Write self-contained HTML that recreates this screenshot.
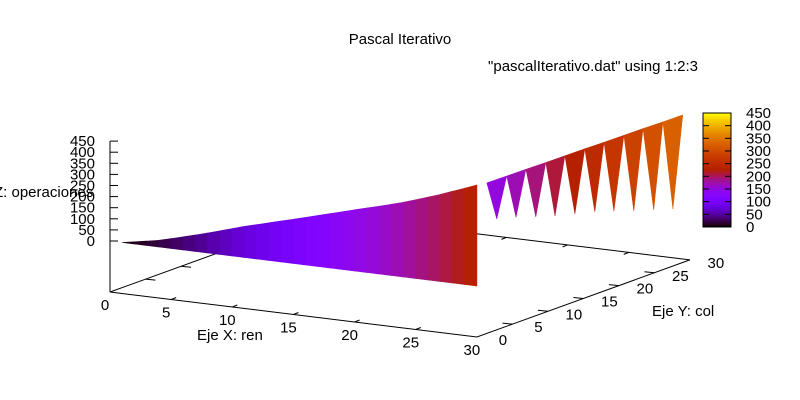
<!DOCTYPE html>
<html><head><meta charset="utf-8"><style>
body{margin:0;background:#fff}
svg{display:block;font-family:"Liberation Sans","DejaVu Sans",sans-serif;font-size:15px}
</style></head><body>
<svg id="c" width="800" height="400">
<text x="400" y="44" text-anchor="middle">Pascal Iterativo</text>
<text x="698" y="71" text-anchor="end">"pascalIterativo.dat" using 1:2:3</text>
<g id="axes"></g>
<g id="surf"></g>
<text x="-6" y="197">Z: operaciones</text>
<text x="197" y="340">Eje X: ren</text>
<text x="652" y="316">Eje Y: col</text>
<g id="cb"></g>
</svg>
<script>
// data
const wallX = [1,4,7.4,11,15.5,19.5,23.7,27,30];
const wallTopZ = [0,30,80,140,207,268,331,392,455];
const peakY = [1.4,4.2,6.9,9.7,12.4,15.2,17.9,20.7,23.4,26.2,29.0];
const peakZ = [448,447,446,444,443,442,440,439,438,436,435];
const valleyY = [2.8,5.5,8.3,11,13.8,16.6,19.3,22.1,24.9,27.6];
const valleyZ = [269,246,215,188,165,141,114,82,54,27];
const zTicks = [0,50,100,150,200,250,300,350,400,450];
const xTicks = [0,5,10,15,20,25,30];
const yTicks = [0,5,10,15,20,25,30];
const cbTicks = [0,50,100,150,200,250,300,350,400,450];

const NS="http://www.w3.org/2000/svg";
function B(x,y){return [110+x*12.23+y*7.1, 292+x*1.5-y*2.57];}
function P(x,y,z){const b=B(x,y);return [b[0], b[1]-51-z*0.222];}
function pal(z){let t=Math.max(0,Math.min(1,z/450));
 let r=Math.sqrt(t),g=t*t*t,b=Math.max(0,Math.sin(2*Math.PI*t));
 return `rgb(${Math.round(r*255)},${Math.round(g*255)},${Math.round(b*255)})`;}
function el(tag,attrs,parent){const e=document.createElementNS(NS,tag);for(const k in attrs)e.setAttribute(k,attrs[k]);parent.appendChild(e);return e;}
function pts(a){return a.map(p=>p[0].toFixed(1)+","+p[1].toFixed(1)).join(" ");}
function interp(xa,za,x){if(x<=xa[0])return za[0];for(let i=0;i<xa.length-1;i++){if(x<=xa[i+1]){const f=(x-xa[i])/(xa[i+1]-xa[i]);return za[i]+f*(za[i+1]-za[i]);}}return za[za.length-1];}

const axes=document.getElementById('axes'), surf=document.getElementById('surf'), cb=document.getElementById('cb');
let o=B(0,0),xe=B(30,0),ye=B(30,30),bk=B(0,30);
el('polyline',{points:pts([bk,o,xe,ye,bk]),fill:'none',stroke:'#000','stroke-width':1},axes);
el('line',{x1:110,y1:P(0,0,450)[1],x2:110,y2:292,stroke:'#000'},axes);
zTicks.forEach(z=>{const y=P(0,0,z)[1];
 el('line',{x1:110,y1:y,x2:118,y2:y,stroke:'#000'},axes);
 const t=el('text',{x:95,y:y+5,'text-anchor':'end'},axes);t.textContent=z;
 
 });
xTicks.forEach(x=>{const p=B(x,0);
 if(x>0&&x<30){el('line',{x1:p[0],y1:p[1],x2:p[0]+5,y2:p[1]-2,stroke:'#000'},axes);
 const q=B(x,30);el('line',{x1:q[0],y1:q[1],x2:q[0]-5,y2:q[1]+2,stroke:'#000'},axes);}
 const t=el('text',{x:p[0]-5,y:p[1]+18,'text-anchor':'middle'},axes);t.textContent=x;
 
 });
yTicks.forEach(y=>{const p=B(30,y);
 if(y>0&&y<30){el('line',{x1:p[0],y1:p[1],x2:p[0]-10,y2:p[1]-1,stroke:'#000'},axes);
 const q=B(0,y);el('line',{x1:q[0],y1:q[1],x2:q[0]+10,y2:q[1]+1,stroke:'#000'},axes);}
 const t=el('text',{x:p[0]+26,y:p[1]+8,'text-anchor':'middle'},axes);t.textContent=y;
 
 });
for(let x=1;x<30;x+=1){
 const a1=interp(wallX,wallTopZ,x),a2=interp(wallX,wallTopZ,x+1);
 const col=pal(a2*0.5);
 const p=el('polygon',{points:pts([P(x,0,0),P(x+1,0,0),P(x+1,0,a2),P(x,0,a1)]),fill:col,stroke:col,'stroke-width':0.6},surf);
 
 }
for(let i=0;i<valleyY.length;i++){
 const col=pal(150+(i/(valleyY.length-1))*175);
 const p=el('polygon',{points:pts([P(30,peakY[i],peakZ[i]),P(30,peakY[i+1],peakZ[i+1]),P(30,valleyY[i],valleyZ[i])]),fill:col,stroke:col,'stroke-width':0.5},surf);
 
 }
const cbTop=113,cbBot=227;
for(let i=0;i<114;i++){el('rect',{x:703,y:cbBot-i-1,width:28,height:1.2,fill:pal(i/114*450)},cb);}
el('rect',{x:703,y:cbTop,width:28,height:cbBot-cbTop,fill:'none',stroke:'#000'},cb);
cbTicks.forEach(z=>{const y=cbBot-z/450*(cbBot-cbTop);
 el('line',{x1:725,y1:y,x2:731,y2:y,stroke:'#000'},cb);
 el('line',{x1:703,y1:y,x2:709,y2:y,stroke:'#000'},cb);
 const t=el('text',{x:746,y:y+5},cb);t.textContent=z;
 
 });
</script>
</body></html>
